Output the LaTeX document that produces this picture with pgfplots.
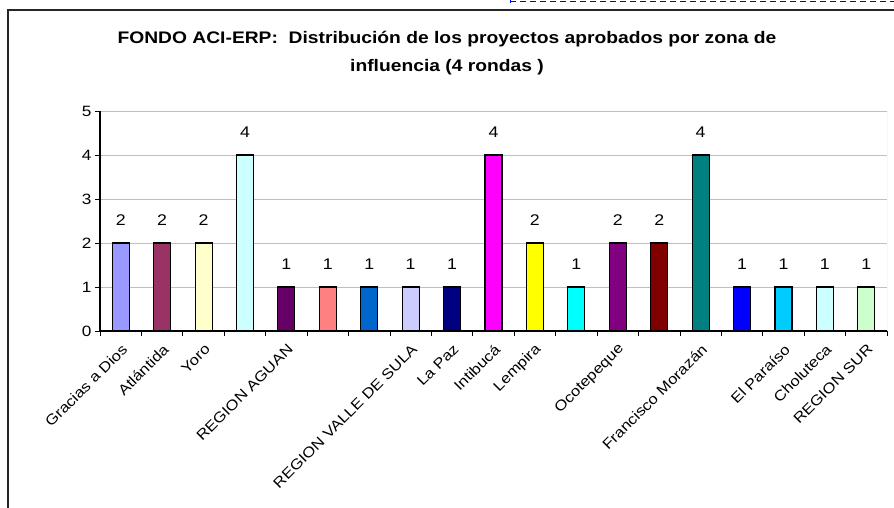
\documentclass[border=0pt]{standalone}
\usepackage{fontspec}
\setmainfont[FakeStretch=1.15]{Liberation Sans}
\usepackage{pgfplots}
\pgfplotsset{compat=1.18}

\definecolor{c1}{HTML}{9999FF}
\definecolor{c2}{HTML}{993366}
\definecolor{c3}{HTML}{FFFFCC}
\definecolor{c4}{HTML}{CCFFFF}
\definecolor{c5}{HTML}{660066}
\definecolor{c6}{HTML}{FF8080}
\definecolor{c7}{HTML}{0066CC}
\definecolor{c8}{HTML}{CCCCFF}
\definecolor{c9}{HTML}{000080}
\definecolor{c10}{HTML}{FF00FF}
\definecolor{c11}{HTML}{FFFF00}
\definecolor{c12}{HTML}{00FFFF}
\definecolor{c13}{HTML}{800080}
\definecolor{c14}{HTML}{800000}
\definecolor{c15}{HTML}{008080}
\definecolor{c16}{HTML}{0000FF}
\definecolor{c17}{HTML}{00CCFF}
\definecolor{c18}{HTML}{CCFFFF}
\definecolor{c19}{HTML}{CCFFCC}

\begin{document}
\begin{tikzpicture}
\path[use as bounding box] (0,0) rectangle (894bp,-508bp);
% marco y linea punteada de arriba
\draw[line width=1.5bp, black!85] (8bp,-508bp) -- (8bp,-10bp) -- (894bp,-10bp);
\draw[blue, line width=0.8bp, dash pattern=on 6bp off 4bp] (510bp,-1.5bp) -- (894bp,-1.5bp);
\draw[blue, line width=0.8bp] (510bp,0bp) -- (510bp,-3bp);

\node[anchor=base, font=\bfseries\fontsize{16.8}{19}\selectfont] at (447bp,-43.5bp)
  {FONDO ACI-ERP:\ \ Distribución de los proyectos aprobados por zona de};
\node[anchor=base, font=\bfseries\fontsize{16.8}{19}\selectfont] at (447bp,-71bp)
  {influencia (4 rondas )};

\begin{axis}[
    at={(100bp,-331bp)}, anchor=south west,
    scale only axis, width=787bp, height=220bp,
    xmin=0.5, xmax=19.5, ymin=0, ymax=5,
    mybar/.style={ybar, bar width=17bp, draw=black, line width=1.1bp, fill=#1},
    xtick={0.5,1.5,...,19.5}, xticklabels={},
    extra x ticks={1,...,19},
    extra x tick labels={Gracias a Dios, Atlántida, Yoro, {}, REGION AGUAN, {}, {},
      REGION VALLE DE SULA, La Paz, Intibucá, Lempira, {}, Ocotepeque, {},
      Francisco Morazán, {}, El Paraíso, Choluteca, REGION SUR},
    extra x tick style={major tick length=0pt,
      tick label style={rotate=45, anchor=east, xshift=-5bp, yshift=-14bp,
        font=\fontsize{14.5}{16}\selectfont}},
    ytick={0,...,5},
    tick align=outside,
    major tick length=5bp,
    tick style={black, line width=0.8bp},
    y tick label style={font=\fontsize{15}{17}\selectfont},
    /pgf/number format/assume math mode=true,
    ymajorgrids, grid style={gray!50, line width=0.8bp},
    axis x line*=bottom, axis y line*=left,
    axis line style={line width=1.1bp, black},
    nodes near coords,
    every node near coord/.append style={font=\fontsize{15.5}{17}\selectfont,
      inner sep=0pt, anchor=south, yshift=17bp, black},
]
\draw[gray!50, line width=0.8bp] (rel axis cs:1,0) -- (rel axis cs:1,1);
\addplot[mybar=c1]  coordinates {(1,2)};
\addplot[mybar=c2]  coordinates {(2,2)};
\addplot[mybar=c3]  coordinates {(3,2)};
\addplot[mybar=c4]  coordinates {(4,4)};
\addplot[mybar=c5]  coordinates {(5,1)};
\addplot[mybar=c6]  coordinates {(6,1)};
\addplot[mybar=c7]  coordinates {(7,1)};
\addplot[mybar=c8]  coordinates {(8,1)};
\addplot[mybar=c9]  coordinates {(9,1)};
\addplot[mybar=c10] coordinates {(10,4)};
\addplot[mybar=c11] coordinates {(11,2)};
\addplot[mybar=c12] coordinates {(12,1)};
\addplot[mybar=c13] coordinates {(13,2)};
\addplot[mybar=c14] coordinates {(14,2)};
\addplot[mybar=c15] coordinates {(15,4)};
\addplot[mybar=c16] coordinates {(16,1)};
\addplot[mybar=c17] coordinates {(17,1)};
\addplot[mybar=c18] coordinates {(18,1)};
\addplot[mybar=c19] coordinates {(19,1)};
\end{axis}
\end{tikzpicture}
\end{document}
